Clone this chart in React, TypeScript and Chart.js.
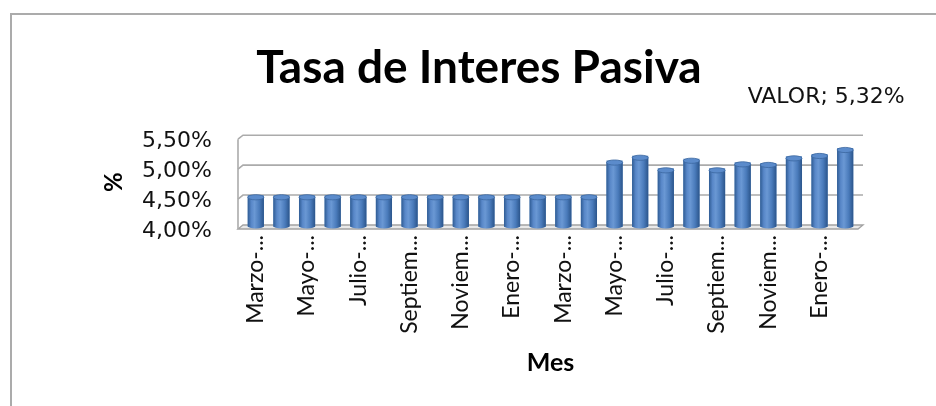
import React, { useEffect, useRef } from 'react';
import { Chart, registerables } from 'chart.js';

Chart.register(...registerables);

// ---- Data ----
const chartTitle = 'Tasa de Interes Pasiva';
const seriesName = 'VALOR';
const xAxisTitle = 'Mes';
const yAxisTitle = '%';

const monthLabels = [
  'Marzo-...', 'Abril-...', 'Mayo-...', 'Junio-...', 'Julio-...', 'Agosto-...',
  'Septiem...', 'Octubr...', 'Noviem...', 'Diciem...', 'Enero-...', 'Febrer...',
  'Marzo-...', 'Abril-...', 'Mayo-...', 'Junio-...', 'Julio-...', 'Agosto-...',
  'Septiem...', 'Octubr...', 'Noviem...', 'Diciem...', 'Enero-...', 'Febrer...',
];

const rateValues = [
  4.53, 4.53, 4.53, 4.53, 4.53, 4.53, 4.53, 4.53, 4.53, 4.53, 4.53, 4.53,
  4.53, 4.53, 5.11, 5.19, 4.98, 5.14, 4.98, 5.08, 5.07, 5.18, 5.22, 5.32,
];

const yTickValues = [4.0, 4.5, 5.0, 5.5];

const fmtPct = (v: number) => v.toFixed(2).replace('.', ',') + '%';

// ---- Plugins ----
const frameAndWalls = {
  id: 'frameAndWalls',
  beforeDraw(chart: any) {
    const ctx = chart.ctx;
    ctx.save();
    ctx.fillStyle = '#ffffff';
    ctx.fillRect(0, 0, chart.width, chart.height);
    ctx.strokeStyle = '#ababab';
    ctx.lineWidth = 2;
    ctx.beginPath();
    ctx.moveTo(11, chart.height + 2);
    ctx.lineTo(11, 14);
    ctx.lineTo(chart.width + 2, 14);
    ctx.stroke();
    ctx.restore();
  },
  beforeDatasetsDraw(chart: any) {
    const ctx = chart.ctx;
    const a = chart.chartArea;
    const y = chart.scales.y;
    const dx = 5;
    const dy = 4;
    const fl = a.left - dx;
    const yMin = y.getPixelForValue(y.min);
    const yMax = y.getPixelForValue(y.max);
    ctx.save();
    // floor
    ctx.beginPath();
    ctx.moveTo(fl, yMin + 2);
    ctx.lineTo(a.right, yMin + 2);
    ctx.lineTo(a.right + dx, yMin + 2 - dy);
    ctx.lineTo(a.left, yMin + 2 - dy);
    ctx.closePath();
    ctx.fillStyle = '#e9e9e9';
    ctx.fill();
    ctx.strokeStyle = '#a3a3a3';
    ctx.lineWidth = 1.3;
    ctx.stroke();
    // gridlines on back wall + slants on side wall
    ctx.strokeStyle = '#ababab';
    ctx.lineWidth = 1.6;
    yTickValues.forEach((v) => {
      const py = y.getPixelForValue(v);
      if (v === y.min) return;
      ctx.beginPath();
      ctx.moveTo(fl, py + 2);
      ctx.lineTo(a.left, py + 2 - dy);
      ctx.lineTo(a.right + dx, py + 2 - dy);
      ctx.stroke();
    });
    // side wall front edge
    ctx.beginPath();
    ctx.moveTo(fl, yMin + 2);
    ctx.lineTo(fl, yMax + 2);
    ctx.stroke();
    ctx.restore();
  },
  afterDatasetsDraw(chart: any) {
    const ctx = chart.ctx;
    const meta = chart.getDatasetMeta(0);
    const a = chart.chartArea;
    ctx.save();
    meta.data.forEach((el: any) => {
      const x = el.x;
      const w = el.width;
      const top = el.y + 2;
      const base = Math.min(el.base, a.bottom) - 1;
      const left = x - w / 2;
      const g = ctx.createLinearGradient(left, 0, left + w, 0);
      g.addColorStop(0, '#2f5c94');
      g.addColorStop(0.22, '#5887c8');
      g.addColorStop(0.42, '#6a98d4');
      g.addColorStop(0.72, '#4a7bbb');
      g.addColorStop(1, '#2b558b');
      const ry = 2.6;
      // body
      ctx.fillStyle = g;
      ctx.beginPath();
      ctx.moveTo(left, top);
      ctx.lineTo(left, base);
      ctx.ellipse(x, base, w / 2, ry, 0, Math.PI, 0, true);
      ctx.lineTo(left + w, top);
      ctx.closePath();
      ctx.fill();
      // top ellipse
      ctx.beginPath();
      ctx.ellipse(x, top, w / 2, ry, 0, 0, Math.PI * 2);
      ctx.fillStyle = '#5b8bcb';
      ctx.fill();
      ctx.strokeStyle = '#3b679f';
      ctx.lineWidth = 0.8;
      ctx.stroke();
    });
    ctx.restore();
  },
  afterDraw(chart: any) {
    const ctx = chart.ctx;
    const meta = chart.getDatasetMeta(0);
    const last = meta.data[meta.data.length - 1];
    const val = rateValues[rateValues.length - 1];
    ctx.save();
    ctx.font = '22px "DejaVu Sans"';
    ctx.fillStyle = '#111';
    ctx.textAlign = 'center';
    ctx.textBaseline = 'middle';
    ctx.fillText(`${seriesName}; ${fmtPct(val)}`, last.x - 19, last.y - 51);
    ctx.restore();
  },
};

export default function App() {
  const canvasRef = useRef<HTMLCanvasElement | null>(null);

  useEffect(() => {
    document.body.style.margin = '0';
    const canvas = canvasRef.current;
    if (!canvas) return;
    const chart = new Chart(canvas, {
      type: 'bar',
      data: {
        labels: monthLabels,
        datasets: [
          {
            label: seriesName,
            data: rateValues,
            base: 4,
            backgroundColor: '#4f81bd',
            barPercentage: 0.63,
            categoryPercentage: 1,
          },
        ],
      },
      options: {
        responsive: false,
        animation: false,
        devicePixelRatio: 1,
        layout: { padding: { left: 100, right: 78, top: 0, bottom: 28 } },
        plugins: {
          legend: { display: false },
          tooltip: { enabled: false },
          title: {
            display: true,
            text: chartTitle,
            color: '#000',
            font: { family: 'Lato', size: 46, weight: 'bold' },
            padding: { top: 41, bottom: 41 },
          },
        },
        scales: {
          x: {
            afterFit: (s: any) => {
              s.height = 151;
            },
            grid: { display: false, drawTicks: false },
            border: { display: false },
            ticks: {
              autoSkip: false,
              minRotation: 90,
              maxRotation: 90,
              padding: 8,
              color: '#111',
              font: { family: 'Lato', size: 23 },
              callback: (_v: any, i: number) => (i % 2 === 0 ? monthLabels[i] : ''),
            },
            title: {
              display: true,
              text: xAxisTitle,
              color: '#000',
              font: { family: 'Lato', size: 25, weight: 'bold' },
              padding: { top: 0, bottom: 0 },
            },
          },
          y: {
            min: 4,
            max: 5.5,
            afterFit: (s: any) => {
              s.width = 143;
            },
            afterBuildTicks: (s: any) => {
              s.ticks = yTickValues.map((v) => ({ value: v }));
            },
            grid: { display: false, drawTicks: false },
            border: { display: false },
            ticks: {
              padding: 31,
              labelOffset: 4,
              color: '#111',
              font: { family: 'DejaVu Sans', size: 22 },
              callback: (v: any) => fmtPct(Number(v)),
            },
            title: {
              display: true,
              text: yAxisTitle,
              color: '#000',
              font: { family: 'Lato', size: 24, weight: 'bold' },
              padding: { top: 0, bottom: 0 },
            },
          },
        },
      },
      plugins: [frameAndWalls],
    });
    return () => chart.destroy();
  }, []);

  return (
    <div style={{ width: 936, height: 406 }}>
      <canvas ref={canvasRef} width={936} height={406} style={{ display: 'block' }} />
    </div>
  );
}
